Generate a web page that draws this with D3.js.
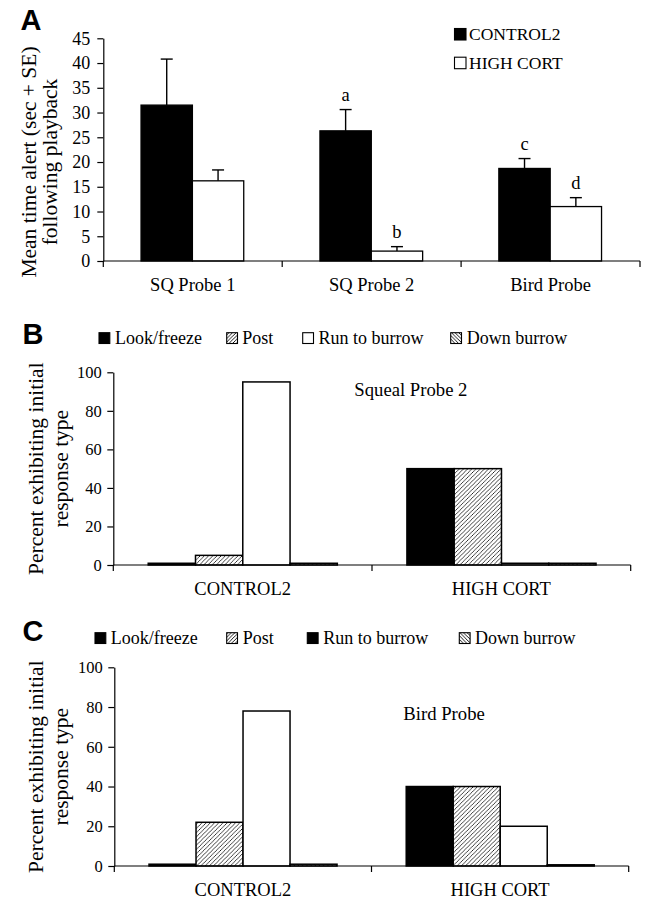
<!DOCTYPE html>
<html>
<head>
<meta charset="utf-8">
<script src="https://cdn.jsdelivr.net/npm/d3@7"></script>
<style>
  body { margin: 0; background: #fff; }
  svg { display: block; }
  text { font-family: "Liberation Serif", "Times New Roman", serif; fill: #000; }
</style>
</head>
<body>
<svg id="chart" width="648" height="900"></svg>
<script>
// ---------- DATA ----------
const probeCategories = ["SQ Probe 1", "SQ Probe 2", "Bird Probe"];
const treatmentSeries = ["CONTROL2", "HIGH CORT"];
const control2Means = [31.5, 26.3, 18.7];
const control2SE = [9.3, 4.3, 2.0];
const highCortMeans = [16.2, 2.0, 11.0];
const highCortSE = [2.2, 0.9, 1.8];
const control2Letters = ["", "a", "c"];
const highCortLetters = ["", "b", "d"];
const alertTicks = [0, 5, 10, 15, 20, 25, 30, 35, 40, 45];

const responseTypes = ["Look/freeze", "Post", "Run to burrow", "Down burrow"];
const groupCategories = ["CONTROL2", "HIGH CORT"];
const squealControl2 = [0.9, 5, 95, 0.9];
const squealHighCort = [50, 50, 0.9, 0.9];
const birdControl2 = [0.9, 22, 78, 0.9];
const birdHighCort = [40, 40, 20, 0.6];
const percentTicks = [0, 20, 40, 60, 80, 100];

// ---------- SETUP ----------
const svg = d3.select("#chart");
const defs = svg.append("defs");

function hatch(id, dir, size, sw) {
  const p = defs.append("pattern").attr("id", id)
    .attr("patternUnits", "userSpaceOnUse")
    .attr("width", size).attr("height", size);
  p.append("rect").attr("width", size).attr("height", size).attr("fill", "#fff");
  const s = size;
  const d = dir === "up"
    ? `M${-1},1 l2,-2 M0,${s} l${s},${-s} M${s - 1},${s + 1} l2,-2`
    : `M${-1},${s - 1} l2,2 M0,0 l${s},${s} M${s - 1},-1 l2,2`;
  p.append("path").attr("d", d).attr("stroke", "#000").attr("stroke-width", sw);
}
hatch("postHatch", "up", 4.2, 0.75);
hatch("downHatch", "down", 4.2, 0.75);
hatch("postLeg", "up", 3.6, 0.9);
hatch("downLeg", "down", 3.6, 0.9);

const respFill = ["#000", "url(#postHatch)", "#fff", "url(#downHatch)"];
const legendFillB = ["#000", "url(#postLeg)", "#fff", "url(#downLeg)"];
const legendFillC = ["#000", "url(#postLeg)", "#000", "url(#downLeg)"];

function panelLetter(txt, x, y) {
  svg.append("text").attr("x", x).attr("y", y).text(txt)
    .style("font-family", "'Liberation Sans', Arial, sans-serif")
    .style("font-weight", "bold").style("font-size", "29px");
}

function yTitle(lines, cy, baseX, spacing) {
  const g = svg.append("g").attr("transform", `translate(${baseX},${cy}) rotate(-90)`);
  lines.forEach((l, i) => {
    g.append("text").attr("x", 0).attr("y", i * spacing)
      .attr("text-anchor", "middle").style("font-size", "21.5px").text(l);
  });
}

function leftAxis(y, ticks, x0, pad, fs) {
  const g = svg.append("g").attr("transform", `translate(${x0},0)`)
    .call(d3.axisLeft(y).tickValues(ticks).tickSize(6).tickSizeOuter(0).tickPadding(pad));
  g.selectAll("path,line").attr("stroke", "#000").attr("stroke-width", 1.2);
  g.selectAll("text").style("font-family", "'Liberation Serif', serif").style("font-size", fs + "px");
}

function bottomAxis(x, yBase, fs) {
  const r = x.range();
  const g = svg.append("g");
  g.append("line").attr("x1", r[0]).attr("x2", r[1]).attr("y1", yBase).attr("y2", yBase)
    .attr("stroke", "#000").attr("stroke-width", 1.2);
  const edges = x.domain().map(d => x(d)).concat([r[1]]);
  g.selectAll(".sep").data(edges).join("line")
    .attr("x1", d => d).attr("x2", d => d).attr("y1", yBase).attr("y2", yBase + 6)
    .attr("stroke", "#000").attr("stroke-width", 1.2);
  g.selectAll(".lab").data(x.domain()).join("text")
    .attr("x", d => x(d) + x.bandwidth() / 2).attr("y", yBase + 29.5)
    .attr("text-anchor", "middle").style("font-size", fs + "px").text(d => d);
}

// ---------- PANEL A ----------
(function () {
  const x = d3.scaleBand().domain(probeCategories).range([103.3, 640]).padding(0);
  const bw = x.bandwidth();
  const xi = d3.scaleBand().domain(treatmentSeries).range([bw * 0.211, bw * 0.785]).padding(0);
  const y = d3.scaleLinear().domain([0, 45]).range([261, 38.3]);

  const rows = [];
  probeCategories.forEach((c, i) => {
    rows.push({ c, s: "CONTROL2", v: control2Means[i], se: control2SE[i], lab: control2Letters[i], fill: "#000" });
    rows.push({ c, s: "HIGH CORT", v: highCortMeans[i], se: highCortSE[i], lab: highCortLetters[i], fill: "#fff" });
  });

  const g = svg.append("g");
  g.selectAll("rect").data(rows).join("rect")
    .attr("x", d => x(d.c) + xi(d.s)).attr("width", xi.bandwidth())
    .attr("y", d => y(d.v)).attr("height", d => y(0) - y(d.v))
    .attr("fill", d => d.fill).attr("stroke", "#000").attr("stroke-width", 1.3);

  const cx = d => x(d.c) + xi(d.s) + xi.bandwidth() / 2;
  g.selectAll(".err").data(rows).join("line")
    .attr("x1", cx).attr("x2", cx).attr("y1", d => y(d.v)).attr("y2", d => y(d.v + d.se))
    .attr("stroke", "#000").attr("stroke-width", 1.4);
  g.selectAll(".cap").data(rows).join("line")
    .attr("x1", d => cx(d) - 6).attr("x2", d => cx(d) + 6)
    .attr("y1", d => y(d.v + d.se)).attr("y2", d => y(d.v + d.se))
    .attr("stroke", "#000").attr("stroke-width", 1.4);
  g.selectAll(".sig").data(rows.filter(d => d.lab)).join("text")
    .attr("x", cx).attr("y", d => y(d.v + d.se) - 8.5)
    .attr("text-anchor", "middle").style("font-size", "18.5px").text(d => d.lab);

  leftAxis(y, alertTicks, 103.3, 7, 18);
  bottomAxis(x, 261, 18.5);

  // legend
  const lg = svg.append("g");
  const legFills = ["#000", "#fff"];
  const legY = d3.scalePoint().domain(treatmentSeries).range([40, 68.7]);
  treatmentSeries.forEach((s, i) => {
    lg.append("rect").attr("x", 454.5).attr("y", legY(s) - 11.5).attr("width", 11.5).attr("height", 11.5)
      .attr("fill", legFills[i]).attr("stroke", "#000").attr("stroke-width", 1.1);
    lg.append("text").attr("x", 469).attr("y", legY(s)).style("font-size", "17.5px").text(s);
  });

  panelLetter("A", 20.5, 30);
  yTitle(["Mean time alert (sec + SE)", "following playback"], 162, 36, 21);
})();

// ---------- PANELS B, C ----------
function responsePanel(opts) {
  const x = d3.scaleBand().domain(groupCategories).range([opts.x0, opts.x1]).padding(0);
  const bw = x.bandwidth();
  const xi = d3.scaleBand().domain(responseTypes).range([bw * 0.135, bw * 0.866]).padding(0);
  const y = d3.scaleLinear().domain([0, 100]).range([opts.yBase, opts.yTop]);

  const rows = [];
  groupCategories.forEach((gname, gi) => {
    const vals = gi === 0 ? opts.control : opts.high;
    responseTypes.forEach((r, ri) => rows.push({ gname, r, v: vals[ri], fill: respFill[ri] }));
  });

  svg.append("g").selectAll("rect").data(rows).join("rect")
    .attr("x", d => x(d.gname) + xi(d.r)).attr("width", xi.bandwidth())
    .attr("y", d => y(d.v)).attr("height", d => y(0) - y(d.v))
    .attr("fill", d => d.fill).attr("stroke", "#000").attr("stroke-width", 1.5);

  leftAxis(y, percentTicks, opts.x0, 5.5, 16.5);
  bottomAxis(x, opts.yBase, 18.5);

  // legend
  const lg = svg.append("g");
  responseTypes.forEach((r, i) => {
    lg.append("rect").attr("x", opts.legSq[i]).attr("y", opts.legY - 10.8)
      .attr("width", 10.8).attr("height", 10.8)
      .attr("fill", opts.legFill[i]).attr("stroke", "#000").attr("stroke-width", 1.1);
    lg.append("text").attr("x", opts.legTx[i]).attr("y", opts.legY)
      .style("font-size", "18px").text(r);
  });

  svg.append("text").attr("x", opts.titleX).attr("y", opts.titleY)
    .style("font-size", "18.7px").text(opts.title);

  panelLetter(opts.letter, 22.5, opts.letterY);
  yTitle(["Percent exhibiting initial", "response type"], (opts.yBase + opts.yTop) / 2, 42.5, 25.5);
}

responsePanel({
  letter: "B", letterY: 344, title: "Squeal Probe 2", titleX: 354.3, titleY: 396,
  x0: 113.3, x1: 630.7, yBase: 565, yTop: 372.3,
  control: squealControl2, high: squealHighCort,
  legY: 343.5, legSq: [99, 226.7, 302.7, 450.7], legTx: [115, 242.3, 318.5, 466.7], legFill: legendFillB
});

responsePanel({
  letter: "C", letterY: 641, title: "Bird Probe", titleX: 403.3, titleY: 720,
  x0: 114.3, x1: 628.7, yBase: 866, yTop: 667.3,
  control: birdControl2, high: birdHighCort,
  legY: 643.5, legSq: [95, 226.7, 307.3, 459.3], legTx: [110.7, 242.7, 323.3, 475], legFill: legendFillC
});
</script>
</body>
</html>
